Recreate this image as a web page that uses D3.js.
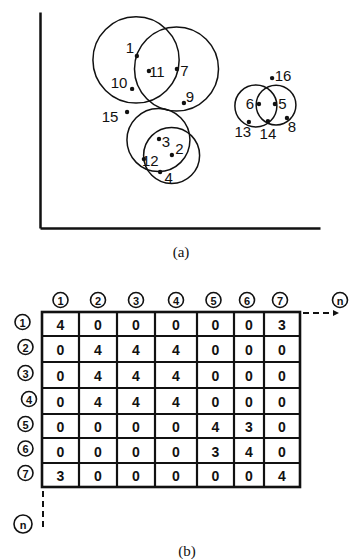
<!DOCTYPE html>
<html>
<head>
<meta charset="utf-8">
<script src="https://cdn.jsdelivr.net/npm/d3@7/dist/d3.min.js"></script>
<style>
  html, body { margin: 0; padding: 0; background: #fff; }
  svg { display: block; }
</style>
</head>
<body>
<svg id="chart" width="351" height="559"></svg>
<script>
// ---------- DATA ----------
// Panel (a): scatter points (arbitrary units 0-100)
const pointIds = ["1","11","7","10","9","15","3","2","12","4","16","6","5","13","14","8"];
const pointX   = [34.6, 38.9, 48.9, 32.9, 51.4, 31.1, 42.5, 47.1, 37.1, 42.9, 82.9, 78.2, 83.9, 74.6, 81.4, 88.2];
const pointY   = [79.6, 72.7, 73.6, 64.4, 57.9, 53.7, 41.2, 33.8, 31.9, 25.9, 69.4, 57.4, 57.4, 49.1, 49.5, 50.9];
// Panel (a): neighbourhood circles
const circleX = [34.3, 48.75, 42.3, 47.0, 77.1, 84.3];
const circleY = [77.8, 73.6, 40.7, 33.6, 56.5, 56.9];
const circleR = [15.4, 15.0, 11.25, 10.0, 7.5, 7.1];
// Panel (b): similarity matrix
const colLabels = ["1","2","3","4","5","6","7"];
const rowLabels = ["1","2","3","4","5","6","7"];
const matrix = [
  [4,0,0,0,0,0,3],
  [0,4,4,4,0,0,0],
  [0,4,4,4,0,0,0],
  [0,4,4,4,0,0,0],
  [0,0,0,0,4,3,0],
  [0,0,0,0,3,4,0],
  [3,0,0,0,0,0,4]
];
const extraLabel = "n";
const captionA = "(a)";
const captionB = "(b)";

// ---------- LAYOUT (label placement, not data) ----------
const labelOffsets = {
  "1":[-7,-9], "11":[8,1], "7":[7.5,1], "10":[-13,-6], "9":[6,-6], "15":[-17,4],
  "3":[7,2], "2":[7.5,-6], "12":[6.5,1], "4":[8.5,5], "16":[11,-3], "6":[-9,-1],
  "5":[7.5,-1], "13":[-6,10], "14":[0,12], "8":[5,8]
};

const ink = "#111";
const svg = d3.select("#chart");

// ---------- PANEL (a) ----------
const x = d3.scaleLinear().domain([0, 100]).range([40, 320]);
const y = d3.scaleLinear().domain([0, 100]).range([228, 12]);
const r = d3.scaleLinear().domain([0, 100]).range([0, 280]);

const gA = svg.append("g");
// axes (plain lines, no ticks)
const xAxis = d3.axisBottom(x).tickValues([]).tickSizeOuter(0);
const yAxis = d3.axisLeft(y).tickValues([]).tickSizeOuter(0);
gA.append("g").attr("transform", `translate(0,${y(0)})`).call(xAxis)
  .select(".domain").attr("stroke", ink).attr("stroke-width", 2.5);
gA.append("g").attr("transform", `translate(${x(0)},0)`).call(yAxis)
  .select(".domain").attr("stroke", ink).attr("stroke-width", 2.5);

gA.selectAll("circle.ring").data(circleX.map((cx, i) => ({cx, cy: circleY[i], r: circleR[i]})))
  .join("circle").attr("class", "ring")
  .attr("cx", d => x(d.cx)).attr("cy", d => y(d.cy)).attr("r", d => r(d.r))
  .attr("fill", "none").attr("stroke", ink).attr("stroke-width", 1.5);

const pts = pointIds.map((id, i) => ({id, x: pointX[i], y: pointY[i]}));
gA.selectAll("circle.pt").data(pts).join("circle").attr("class", "pt")
  .attr("cx", d => x(d.x)).attr("cy", d => y(d.y)).attr("r", 2.2).attr("fill", ink);
gA.selectAll("text.lbl").data(pts).join("text").attr("class", "lbl")
  .attr("x", d => x(d.x) + labelOffsets[d.id][0])
  .attr("y", d => y(d.y) + labelOffsets[d.id][1])
  .attr("text-anchor", "middle").attr("dominant-baseline", "central")
  .attr("font-family", "'Liberation Sans Narrow','Liberation Sans',Arial,sans-serif")
  .attr("font-size", 15).attr("fill", ink)
  .text(d => d.id);

svg.append("text").attr("x", 181).attr("y", 257).attr("text-anchor", "middle")
  .attr("font-family", "'Liberation Serif','DejaVu Serif',serif").attr("font-size", 15)
  .attr("fill", ink).text(captionA);

// ---------- PANEL (b) ----------
const colX = d3.scaleLinear().domain([0,1,2,3,4,5,6,7]).range([42,79,117,155,197,234,264,300]);
const rowY = d3.scaleLinear().domain([0,1,2,3,4,5,6,7]).range([312,336,362,388,414,438,463,487]);

const gB = svg.append("g");
const cells = [];
matrix.forEach((row, i) => row.forEach((v, j) => cells.push({i, j, v})));

// grid lines
d3.range(1, 7).forEach(k => {
  gB.append("line").attr("x1", colX(k)).attr("x2", colX(k)).attr("y1", rowY(0)).attr("y2", rowY(7))
    .attr("stroke", ink).attr("stroke-width", 2.2);
  gB.append("line").attr("x1", colX(0)).attr("x2", colX(7)).attr("y1", rowY(k)).attr("y2", rowY(k))
    .attr("stroke", ink).attr("stroke-width", 2.2);
});
gB.append("rect").attr("x", colX(0)).attr("y", rowY(0))
  .attr("width", colX(7) - colX(0)).attr("height", rowY(7) - rowY(0))
  .attr("fill", "none").attr("stroke", ink).attr("stroke-width", 2.6);

gB.selectAll("text.cell").data(cells).join("text").attr("class", "cell")
  .attr("x", d => (colX(d.j) + colX(d.j + 1)) / 2)
  .attr("y", d => (rowY(d.i) + rowY(d.i + 1)) / 2 + 1)
  .attr("text-anchor", "middle").attr("dominant-baseline", "central")
  .attr("font-family", "'Liberation Sans',Arial,sans-serif").attr("font-weight", "bold")
  .attr("font-size", 14).attr("fill", ink).text(d => d.v);

function circled(g, cx, cy, label, rad) {
  const c = g.append("g");
  c.append("circle").attr("cx", cx).attr("cy", cy).attr("r", rad)
    .attr("fill", "none").attr("stroke", ink).attr("stroke-width", 1.6);
  c.append("text").attr("x", cx).attr("y", cy + 0.5)
    .attr("text-anchor", "middle").attr("dominant-baseline", "central")
    .attr("font-family", "'Liberation Sans',Arial,sans-serif").attr("font-weight", "bold")
    .attr("font-size", 11).attr("fill", ink).text(label);
}
// column headers
colLabels.forEach((lab, j) => circled(gB, (colX(j) + colX(j + 1)) / 2 - (j >= 4 ? 2 : 0), 300, lab, 7.5));
// row headers
rowLabels.forEach((lab, i) => circled(gB, i === 3 ? 29 : (i === 0 ? 22.5 : 25.5), (rowY(i) + rowY(i + 1)) / 2 - 2, lab, 7.5));

// dashed extension to the right, with arrow
gB.append("line").attr("x1", colX(7) + 3).attr("x2", 333).attr("y1", rowY(0) + 1).attr("y2", rowY(0) + 1)
  .attr("stroke", ink).attr("stroke-width", 2).attr("stroke-dasharray", "6,4");
gB.append("path").attr("d", `M333,${rowY(0) - 2} L339,${rowY(0) + 1} L333,${rowY(0) + 4} Z`).attr("fill", ink);
circled(gB, 340, 300, extraLabel, 7.5);

// dashed extension downward
gB.append("line").attr("x1", colX(0) + 1).attr("x2", colX(0) + 1).attr("y1", rowY(7) + 4).attr("y2", 530)
  .attr("stroke", ink).attr("stroke-width", 2).attr("stroke-dasharray", "6,4");
circled(gB, 23, 524, extraLabel, 9);

svg.append("text").attr("x", 187).attr("y", 556).attr("text-anchor", "middle")
  .attr("font-family", "'Liberation Serif','DejaVu Serif',serif").attr("font-size", 15)
  .attr("fill", ink).text(captionB);
</script>
</body>
</html>
